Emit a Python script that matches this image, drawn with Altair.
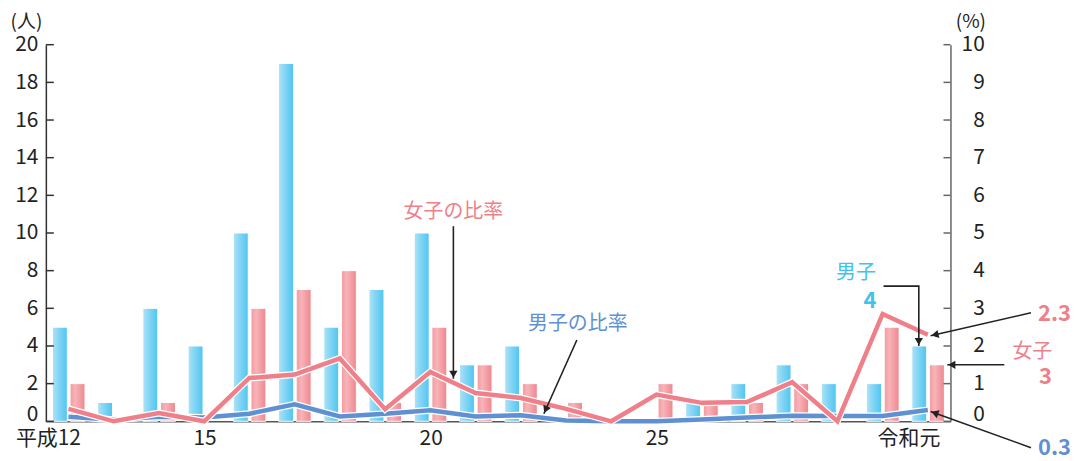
import math
import altair as alt
import pandas as pd

# ---------------- data ----------------
year_index = list(range(20))
male_count = [5, 1, 6, 4, 10, 19, 5, 7, 10, 3, 4, 0, 0, 0, 1, 2, 3, 2, 2, 4]
female_count = [2, 0, 1, 0, 6, 7, 8, 1, 5, 3, 2, 1, 0, 2, 1, 1, 2, 0, 5, 3]
male_ratio = [0.12, 0.04, 0.12, 0.10, 0.20, 0.45, 0.13, 0.20, 0.29, 0.13,
              0.16, 0.02, 0.0, 0.0, 0.05, 0.10, 0.15, 0.14, 0.14, 0.30]
female_ratio = [0.33, 0.0, 0.22, 0.0, 1.15, 1.24, 1.67, 0.32, 1.31, 0.75,
                0.62, 0.33, 0.0, 0.71, 0.49, 0.51, 1.04, 0.0, 2.85, 2.30]
x_tick_index = [0, 3, 8, 13, 19]
x_tick_labels = ["平成12", "15", "20", "25", "令和元"]
left_ticks = list(range(0, 21, 2))
right_ticks = list(range(0, 11))

FONT = "Noto Sans CJK JP"
PINK = "#ef808a"
BLUE = "#5f91d2"
CYAN = "#40c2ef"
W, H = 908, 378
PX_X = W / 20.0     # px per year unit
PX_Y = H / 10.0     # px per percent unit

# ---------------- tables ----------------
bar_m = pd.DataFrame({"i": year_index, "v": male_count})
bar_m["x0"] = bar_m["i"] - 0.355
bar_m["x1"] = bar_m["i"] - 0.025
bar_m = bar_m[bar_m["v"] > 0]
bar_f = pd.DataFrame({"i": year_index, "v": female_count})
bar_f["x0"] = bar_f["i"] + 0.035
bar_f["x1"] = bar_f["i"] + 0.365
bar_f = bar_f[bar_f["v"] > 0]

lines = pd.DataFrame({"i": year_index, "m": male_ratio, "f": female_ratio})

label_map = "{" + ",".join(f"'{k}':'{t}'" for k, t in zip(x_tick_index, x_tick_labels)) + "}"

xs = alt.Scale(domain=[-0.5, 19.5], nice=False, zero=False)
yL = alt.Scale(domain=[0, 20], nice=False, zero=False)
yR = alt.Scale(domain=[0, 10], nice=False, zero=False)

blue_grad = alt.LinearGradient(
    gradient="linear", x1=0, x2=1, y1=0, y2=0,
    stops=[alt.GradientStop(color="#aee3f8", offset=0),
           alt.GradientStop(color="#8ad7f5", offset=0.35),
           alt.GradientStop(color="#4ec5f1", offset=1)])
pink_grad = alt.LinearGradient(
    gradient="linear", x1=0, x2=1, y1=0, y2=0,
    stops=[alt.GradientStop(color="#f29aa1", offset=0),
           alt.GradientStop(color="#f7b4b8", offset=0.35),
           alt.GradientStop(color="#ee868e", offset=1)])

zero_up = {"condition": {"test": "datum.value == 0", "value": -7}, "value": 0}

x_axis = alt.Axis(values=x_tick_index, labelExpr=f"{label_map}[datum.value]",
                  ticks=False, tickSize=0, grid=False, domainColor="#555",
                  domainWidth=1.5, labelFont=FONT, labelFontSize=21,
                  labelColor="#222", labelAlign="right", labelOffset=12,
                  labelPadding=6, title=None, labelOverlap=False)

left_axis = alt.Axis(values=left_ticks, ticks=False, tickSize=0, grid=False,
                     domainColor="#333", domainWidth=1.5, labelFont=FONT,
                     labelFontSize=21, labelColor="#222", labelPadding=8,
                     labelOffset=zero_up,
                     title="(人)", titleAngle=0, titleAlign="center",
                     titleBaseline="middle", titleX=-20, titleY=-23,
                     titleFont=FONT, titleFontSize=19, titleFontWeight="normal",
                     titleColor="#222")

right_axis = alt.Axis(orient="right", values=right_ticks, ticks=False, tickSize=0,
                      grid=False, domainColor="#666", domainWidth=1.5,
                      labelFont=FONT, labelFontSize=21, labelColor="#222",
                      labelAlign="right", labelPadding=34, labelOffset=zero_up,
                      title="(%)", titleAngle=0, titleAlign="center",
                      titleBaseline="middle", titleX=20, titleY=-23,
                      titleFont=FONT, titleFontSize=19, titleFontWeight="normal",
                      titleColor="#222")


def X(field):
    return alt.X(f"{field}:Q", scale=xs, axis=x_axis)


def YL(field):
    return alt.Y(f"{field}:Q", scale=yL, axis=left_axis)


def YR(field):
    return alt.Y(f"{field}:Q", scale=yR, axis=right_axis)


bars_m = alt.Chart(bar_m).mark_bar(fill=blue_grad, stroke="white", strokeWidth=1).encode(
    x=X("x0"), x2="x1:Q", y=YL("v"), y2=alt.datum(0))
bars_f = alt.Chart(bar_f).mark_bar(fill=pink_grad, stroke="white", strokeWidth=1).encode(
    x=X("x0"), x2="x1:Q", y=YL("v"), y2=alt.datum(0))
lt = alt.Chart(pd.DataFrame({"v": left_ticks})).mark_rule(color="#333", strokeWidth=1.5).encode(
    y=YL("v"), x=alt.value(0), x2=alt.value(8))

left = alt.layer(bars_m, bars_f, lt)

rt = alt.Chart(pd.DataFrame({"v": right_ticks})).mark_rule(color="#666", strokeWidth=1.5).encode(
    y=YR("v"), x=alt.value(W - 7), x2=alt.value(W))


def ratio_line(field, color, width):
    return alt.Chart(lines).mark_line(color=color, strokeWidth=width).encode(
        x=X("i"), y=YR(field))


m_out = ratio_line("m", "white", 7)
m_line = ratio_line("m", BLUE, 4.5)
f_out = ratio_line("f", "white", 7)
f_line = ratio_line("f", PINK, 4.5)

# ---------------- annotations ----------------
notes_normal = pd.DataFrame({
    "u": [8.51, 11.26, 17.41, 21.31],
    "p": [5.57, 2.58, 3.93, 1.85],
    "t": ["女子の比率", "男子の比率", "男子", "女子"],
    "c": [PINK, BLUE, CYAN, PINK],
})
notes_bold = pd.DataFrame({
    "u": [17.72, 21.80, 21.60, 21.80],
    "p": [3.19, 2.85, 1.18, -0.70],
    "t": ["4", "2.3", "3", "0.3"],
    "c": [CYAN, PINK, PINK, BLUE],
})
txt_n = alt.Chart(notes_normal).mark_text(font=FONT, fontSize=20, baseline="middle", align="center").encode(
    x=X("u"), y=YR("p"), text="t:N", color=alt.Color("c:N", scale=None))
txt_b = alt.Chart(notes_bold).mark_text(font=FONT, fontSize=22, fontWeight="bold", baseline="middle", align="center").encode(
    x=X("u"), y=YR("p"), text="t:N", color=alt.Color("c:N", scale=None))

arrows = [
    [(8.51, 5.18), (8.51, 1.13)],
    [(11.24, 2.16), (10.51, 0.20)],
    [(18.02, 3.59), (18.80, 3.59), (18.80, 2.0)],
    [(21.28, 2.88), (19.06, 2.27)],
    [(20.69, 1.50), (19.43, 1.50)],
    [(21.28, -0.70), (19.06, 0.26)],
]
arrow_rows, head_rows = [], []
for k, pts in enumerate(arrows):
    for j, (u, p) in enumerate(pts):
        arrow_rows.append({"a": k, "o": j, "u": u, "p": p})
    (u0, p0), (u1, p1) = pts[-2], pts[-1]
    dx = (u1 - u0) * PX_X
    dy = -(p1 - p0) * PX_Y
    L = math.hypot(dx, dy)
    ang = math.degrees(math.atan2(dx, -dy)) % 360
    back = 4.5
    head_rows.append({"u": u1 - back * dx / L / PX_X,
                      "p": p1 + back * dy / L / PX_Y,
                      "ang": ang})
arrow_df = pd.DataFrame(arrow_rows)
head_df = pd.DataFrame(head_rows)

arrow_lines = alt.Chart(arrow_df).mark_line(color="#222", strokeWidth=1.6).encode(
    x=X("u"), y=YR("p"), detail="a:N", order="o:Q")
arrow_heads = alt.Chart(head_df).mark_point(shape="triangle-up", filled=True, color="#222",
                                            size=70, opacity=1).encode(
    x=X("u"), y=YR("p"), angle=alt.Angle("ang:Q", scale=None))

right = alt.layer(rt, m_out, m_line, f_out, f_line, arrow_lines, arrow_heads, txt_n, txt_b)

chart = alt.layer(left, right).resolve_scale(y="independent").properties(
    width=W, height=H,
    autosize=alt.AutoSizeParams(type="none"),
    padding={"left": 38, "top": 36, "right": 124, "bottom": 37},
    background="white",
).configure_view(stroke=None)

chart.save("out.html", embed_options={"renderer": "svg", "actions": False})
